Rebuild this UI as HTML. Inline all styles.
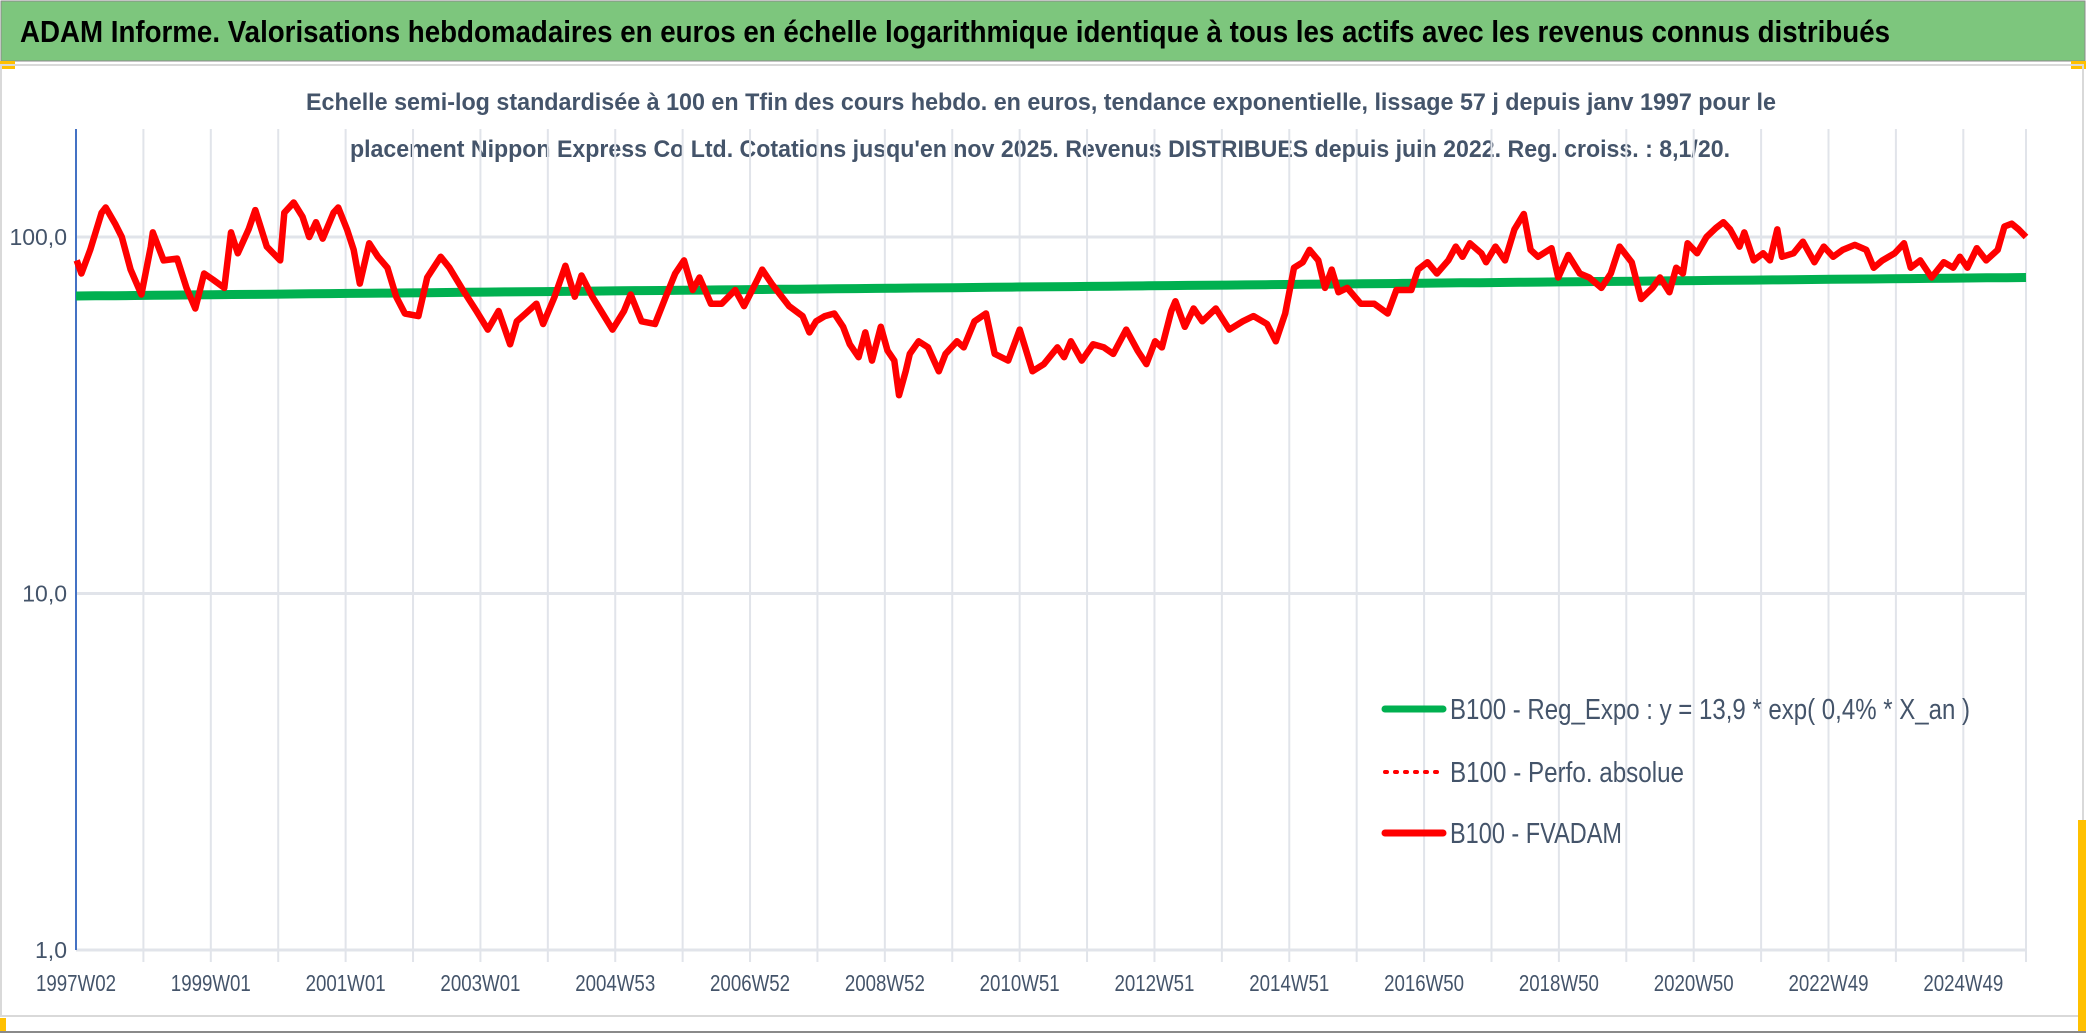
<!DOCTYPE html>
<html><head><meta charset="utf-8"><style>
html,body{margin:0;padding:0;background:#fff;width:2086px;height:1033px;overflow:hidden}
svg{display:block}
text{font-family:"Liberation Sans Narrow","Liberation Sans",sans-serif}
</style></head><body>
<svg id="chart" width="2086" height="1033" viewBox="0 0 2086 1033" xmlns="http://www.w3.org/2000/svg">
<rect x="0" y="0" width="2086" height="1033" fill="#fff"/>
<rect x="1" y="1" width="2084" height="60" fill="#7dc67d" stroke="#8a8a8a" stroke-width="1"/>
<text x="20" y="42" font-size="31" font-weight="bold" fill="#000" textLength="1870" lengthAdjust="spacingAndGlyphs">ADAM Informe. Valorisations hebdomadaires en euros en échelle logarithmique identique à tous les actifs avec les revenus connus distribués</text>
<rect x="0" y="61" width="15" height="8" fill="#ffc000"/>
<rect x="2071" y="61" width="15" height="8" fill="#ffc000"/>
<rect x="1" y="65" width="2082" height="951" fill="none" stroke="#d9d9d9" stroke-width="2"/>
<rect x="0" y="1018" width="6" height="14" fill="#ffc000"/>
<rect x="2078" y="820" width="8" height="212" fill="#ffc000"/>
<line x1="0" y1="1032" x2="2086" y2="1032" stroke="#8a8a8a" stroke-width="2"/>
<text x="1041" y="110" font-size="24" font-weight="bold" fill="#44546a" text-anchor="middle" textLength="1470" lengthAdjust="spacingAndGlyphs">Echelle semi-log standardisée à 100 en Tfin des cours hebdo. en euros, tendance exponentielle, lissage 57 j depuis janv 1997 pour le</text>
<text x="1040" y="157" font-size="24" font-weight="bold" fill="#44546a" text-anchor="middle" textLength="1380" lengthAdjust="spacingAndGlyphs">placement Nippon Express Co Ltd. Cotations jusqu'en nov 2025. Revenus DISTRIBUES depuis juin 2022. Reg. croiss. : 8,1/20.</text>
<g id="grid"></g>
<g id="axes"></g>
<g id="series"></g>
<g id="legend">
<line x1="1385" y1="709" x2="1443" y2="709" stroke="#00b050" stroke-width="7" stroke-linecap="round"/>
<text x="1450" y="719" font-size="29" fill="#44546a" textLength="520" lengthAdjust="spacingAndGlyphs">B100 - Reg_Expo : y = 13,9 * exp( 0,4% *  X_an )</text>
<line x1="1385" y1="772" x2="1443" y2="772" stroke="#ff0000" stroke-width="4" stroke-dasharray="2 8" stroke-linecap="round"/>
<text x="1450" y="782" font-size="29" fill="#44546a" textLength="234" lengthAdjust="spacingAndGlyphs">B100 - Perfo. absolue</text>
<line x1="1385" y1="833" x2="1443" y2="833" stroke="#ff0000" stroke-width="7" stroke-linecap="round"/>
<text x="1450" y="843" font-size="29" fill="#44546a" textLength="172" lengthAdjust="spacingAndGlyphs">B100 - FVADAM</text>
</g>
</svg>
<script>
const yTicks=[1,10,100];
const yTickLabels=["1,0","10,0","100,0"];
const xTickYears=[1997.0,1999.0,2001.0,2003.0,2005.0,2007.0,2009.0,2011.0,2013.0,2015.0,2017.0,2019.0,2021.0,2023.0,2025.0];
const xTickLabels=["1997W02","1999W01","2001W01","2003W01","2004W53","2006W52","2008W52","2010W51","2012W51","2014W51","2016W50","2018W50","2020W50","2022W49","2024W49"];
const regStart=68.3, regEnd=77.0, regT0=1997.0, regT1=2025.93;
const fvT=[1997.01,1997.08,1997.21,1997.38,1997.44,1997.58,1997.68,1997.81,1997.97,1998.11,1998.14,1998.30,1998.50,1998.64,1998.77,1998.90,1999.03,1999.20,1999.30,1999.40,1999.56,1999.66,1999.83,2000.03,2000.09,2000.23,2000.36,2000.46,2000.56,2000.66,2000.82,2000.89,2001.02,2001.12,2001.21,2001.35,2001.48,2001.62,2001.75,2001.88,2002.08,2002.21,2002.41,2002.54,2002.74,2002.94,2003.11,2003.27,2003.44,2003.54,2003.67,2003.83,2003.93,2004.10,2004.26,2004.40,2004.50,2004.66,2004.79,2004.96,2005.13,2005.23,2005.39,2005.59,2005.75,2005.89,2006.02,2006.15,2006.25,2006.42,2006.58,2006.78,2006.91,2007.11,2007.18,2007.32,2007.58,2007.78,2007.88,2007.98,2008.11,2008.25,2008.38,2008.48,2008.61,2008.71,2008.81,2008.94,2009.04,2009.14,2009.21,2009.31,2009.37,2009.50,2009.64,2009.80,2009.90,2010.07,2010.17,2010.33,2010.50,2010.63,2010.83,2011.00,2011.19,2011.36,2011.56,2011.66,2011.76,2011.92,2012.09,2012.25,2012.39,2012.58,2012.75,2012.88,2013.01,2013.11,2013.25,2013.31,2013.45,2013.58,2013.71,2013.91,2014.11,2014.31,2014.47,2014.67,2014.80,2014.94,2015.07,2015.20,2015.30,2015.43,2015.53,2015.63,2015.73,2015.86,2016.06,2016.26,2016.46,2016.59,2016.81,2016.91,2017.05,2017.19,2017.36,2017.47,2017.57,2017.68,2017.85,2017.92,2018.06,2018.20,2018.34,2018.48,2018.58,2018.69,2018.89,2018.99,2019.14,2019.31,2019.45,2019.63,2019.77,2019.90,2020.08,2020.22,2020.39,2020.50,2020.64,2020.74,2020.84,2020.91,2021.05,2021.19,2021.33,2021.44,2021.54,2021.68,2021.75,2021.89,2022.03,2022.13,2022.24,2022.31,2022.48,2022.62,2022.79,2022.93,2023.07,2023.21,2023.39,2023.56,2023.67,2023.80,2023.98,2024.12,2024.22,2024.36,2024.53,2024.71,2024.85,2024.95,2025.06,2025.20,2025.34,2025.51,2025.61,2025.72,2025.82,2025.93];
const fvV=[86,79,92,117,121,109,100,81,69,94,103,86,87,72,63,79,76,72,103,90,105,119,94,86,117,125,114,100,110,99,117,121,105,92,74,96,88,82,68,61,60,77,88,82,71,62,55,62,50,58,61,65,57,68,83,68,78,68,62,55,62,69,58,57,68,79,86,71,77,65,65,71,64,76,81,74,64,60,54,58,60,61,56,50,46,54,45,56,48,45,36,42,47,51,49,42,47,51,49,58,61,47,45,55,42,44,49,46,51,45,50,49,47,55,48,44,51,49,62,66,56,63,58,63,55,58,60,57,51,61,82,85,92,86,72,81,70,72,65,65,61,71,71,81,85,79,86,94,88,96,90,85,94,86,105,116,92,88,93,77,89,79,77,72,79,94,85,67,72,77,70,82,79,96,90,100,106,110,105,94,103,86,90,86,105,88,90,97,85,94,88,92,95,92,82,86,90,96,82,86,77,85,82,88,82,93,86,92,107,109,105,100];

const NS="http://www.w3.org/2000/svg";
const X0=76, X1=2026, T0=1997.0, T1=2025.93, YTOP=129, YBOT=950;
function xs(t){return X0+(t-T0)/(T1-T0)*(X1-X0);}
function ys(v){return YBOT-(Math.log10(v)-0)/2*(YBOT-237);}
function mk(tag,attrs,parent){const e=document.createElementNS(NS,tag);for(const k in attrs)e.setAttribute(k,attrs[k]);parent.appendChild(e);return e;}
const grid=document.getElementById('grid'), axes=document.getElementById('axes'), series=document.getElementById('series');
for(let yr=1998;yr<=2025;yr++){
  const l=mk('line',{x1:xs(yr),x2:xs(yr),y1:YTOP,y2:YBOT+12,stroke:'#e1e4ea','stroke-width':2},grid);
  
  
}
const lr=mk('line',{x1:X1,x2:X1,y1:YTOP,y2:YBOT+12,stroke:'#e1e4ea','stroke-width':2},grid);


yTicks.forEach((v,i)=>{
  const l=mk('line',{x1:X0,x2:X1,y1:ys(v),y2:ys(v),stroke:'#e1e4ea','stroke-width':3},grid);
  
  
  const t=mk('text',{x:67,y:ys(v)+8,'font-size':23,fill:'#44546a','text-anchor':'end'},axes);
  t.textContent=yTickLabels[i];
  
  
});
const ax=mk('line',{x1:X0,x2:X0,y1:YTOP,y2:YBOT,stroke:'#4472c4','stroke-width':2},axes);


xTickYears.forEach((t,i)=>{
  const e=mk('text',{x:xs(t),y:991,'font-size':23,fill:'#44546a','text-anchor':'middle',textLength:80,lengthAdjust:'spacingAndGlyphs'},axes);
  e.textContent=xTickLabels[i];
  
  
});
let d='';
for(let k=0;k<=100;k++){const t=regT0+(regT1-regT0)*k/100;const v=regStart*Math.pow(regEnd/regStart,(t-regT0)/(regT1-regT0));d+=(k?'L':'M')+xs(t).toFixed(1)+' '+ys(v).toFixed(1);}
const rg=mk('path',{d:d,fill:'none',stroke:'#00b050','stroke-width':9},series);


let d2='';
fvT.forEach((t,i)=>{d2+=(i?'L':'M')+xs(t).toFixed(1)+' '+ys(fvV[i]).toFixed(1);});
const fv=mk('path',{d:d2,fill:'none',stroke:'#ff0000','stroke-width':6.5,'stroke-linejoin':'round'},series);


</script>
</body></html>
